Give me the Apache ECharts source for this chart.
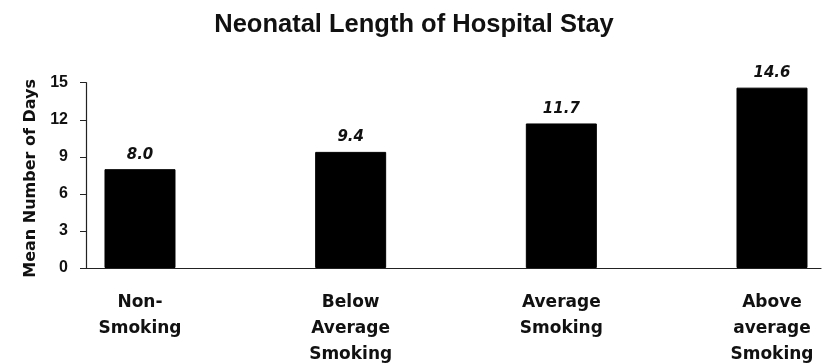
<!DOCTYPE html>
<html>
<head>
<meta charset="utf-8">
<script src="https://cdn.jsdelivr.net/npm/echarts@6/dist/echarts.min.js"></script>
<style>
html,body{margin:0;padding:0;background:#fff;}
#chart{width:828px;height:364px;}
</style>
</head>
<body>
<div id="chart"></div>
<script>
var categories = ["Non-\nSmoking", "Below\nAverage\nSmoking", "Average\nSmoking", "Above\naverage\nSmoking"];
var values = [8.0, 9.4, 11.7, 14.6];
var yTicks = [0, 3, 6, 9, 12, 15];

var chart = echarts.init(document.getElementById('chart'));
var barData = values.map(function (v, i) { return [i, v]; });

chart.setOption({
  animation: false,
  backgroundColor: '#ffffff',
  title: {
    text: 'Neonatal Length of Hospital Stay',
    left: 'center',
    top: 7,
    textStyle: { fontFamily: 'Liberation Sans', fontWeight: 'bold', fontSize: 25.5, color: '#111' }
  },
  grid: { left: 86, right: 7, top: 82.7, bottom: 96, outerBoundsMode: 'none', containLabel: false },
  xAxis: {
    type: 'value',
    min: -0.2563,
    max: 3.2326,
    splitLine: { show: false },
    axisLine: { show: true, onZero: false, lineStyle: { color: '#222', width: 1.2 } },
    axisTick: { show: false },
    axisLabel: {
      customValues: [0, 1, 2, 3],
      formatter: function (v) { return categories[Math.round(v)]; },
      margin: 22,
      fontFamily: 'DejaVu Sans',
      fontWeight: 'bold',
      fontSize: 17,
      lineHeight: 26,
      color: '#111'
    }
  },
  yAxis: {
    type: 'value',
    min: yTicks[0],
    max: yTicks[yTicks.length - 1],
    interval: 3,
    name: 'Mean Number of Days',
    nameLocation: 'middle',
    nameGap: 37,
    nameTextStyle: { fontFamily: 'DejaVu Sans', fontWeight: 'bold', fontSize: 16, color: '#111', padding: [0, 6, 0, 0] },
    splitLine: { show: false },
    axisLine: { show: true, onZero: false, lineStyle: { color: '#222', width: 1.2 } },
    axisTick: { show: true, length: 6, lineStyle: { color: '#222' } },
    axisLabel: { margin: 18, fontFamily: 'Liberation Sans', fontWeight: 'bold', fontSize: 16, color: '#111' }
  },
  series: [{
    type: 'bar',
    data: barData,
    barWidth: 71,
    itemStyle: { color: '#000', borderColor: '#000', borderWidth: 1 },
    label: {
      show: true,
      position: 'top',
      distance: 7,
      formatter: function (p) { return p.value[1].toFixed(1); },
      fontFamily: 'DejaVu Sans',
      fontWeight: 'bold',
      fontStyle: 'italic',
      fontSize: 15,
      color: '#111'
    }
  }]
});
</script>
</body>
</html>
